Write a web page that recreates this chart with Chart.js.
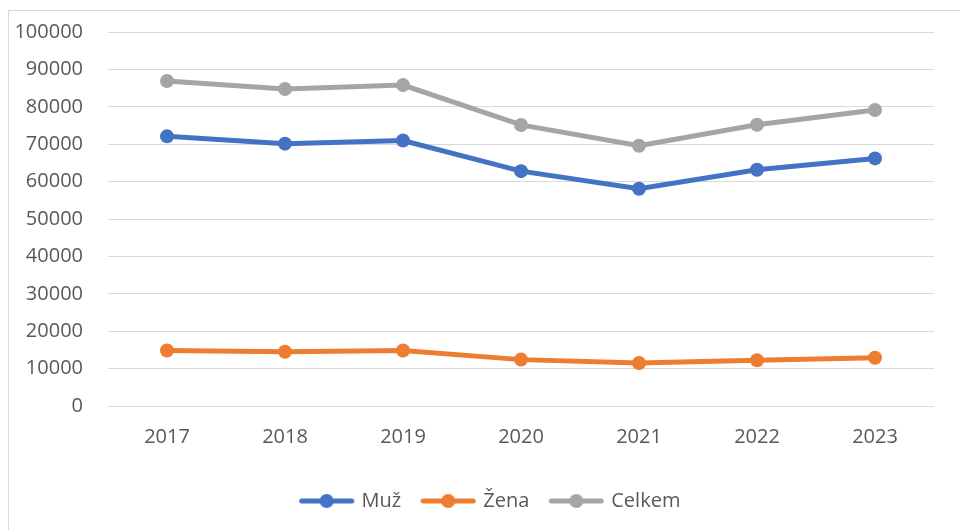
<!DOCTYPE html>
<html>
<head>
<meta charset="utf-8">
<script src="https://cdn.jsdelivr.net/npm/chart.js@4"></script>
<style>
  html, body { margin: 0; padding: 0; background: #fff; }
  #wrap { position: relative; width: 960px; height: 530px; }
</style>
</head>
<body>
<div id="wrap"><canvas id="c" width="960" height="530"></canvas></div>
<script>
const years = ['2017', '2018', '2019', '2020', '2021', '2022', '2023'];
const muz = [72100, 70150, 71000, 62800, 58100, 63150, 66200];
const zena = [14850, 14500, 14850, 12400, 11500, 12250, 12900];
const celkem = [86900, 84750, 85800, 75150, 69600, 75200, 79150];
const yTicks = [0, 10000, 20000, 30000, 40000, 50000, 60000, 70000, 80000, 90000, 100000];

const FONT = "'Open Sans', 'Liberation Sans', sans-serif";
const TEXT = '#595959';

function legendIcon(color) {
  const c = document.createElement('canvas');
  c.width = 56; c.height = 16;
  const g = c.getContext('2d');
  g.strokeStyle = color; g.lineWidth = 5; g.lineCap = 'round';
  g.beginPath(); g.moveTo(3, 8); g.lineTo(53, 8); g.stroke();
  g.fillStyle = color;
  g.beginPath(); g.arc(28, 8, 7, 0, Math.PI * 2); g.fill();
  return c;
}

const frame = {
  id: 'frame',
  beforeDraw(chart) {
    const ctx = chart.ctx;
    ctx.save();
    ctx.strokeStyle = '#D9D9D9';
    ctx.lineWidth = 1;
    ctx.strokeRect(8.5, 10.5, 1000, 600);
    ctx.restore();
  }
};

const shiftLegend = {
  id: 'shiftLegend',
  afterLayout(chart) {
    const l = chart.legend;
    if (!l) return;
    l.left += 20; l.right += 20;
    l.top += 1; l.bottom += 1;
  }
};

const series = [
  { label: 'Muž', data: muz, color: '#4472C4' },
  { label: 'Žena', data: zena, color: '#ED7D31' },
  { label: 'Celkem', data: celkem, color: '#A5A5A5' }
];

new Chart(document.getElementById('c'), {
  type: 'line',
  data: {
    labels: years,
    datasets: series.map(s => ({
      label: s.label,
      data: s.data,
      borderColor: s.color,
      backgroundColor: s.color,
      pointBackgroundColor: s.color,
      pointBorderColor: s.color,
      borderWidth: 5,
      pointRadius: 7,
      pointBorderWidth: 0,
      tension: 0,
      pointStyle: 'circle',
      legendIcon: legendIcon(s.color)
    }))
  },
  options: {
    responsive: false,
    animation: false,
    layout: { padding: { left: 8, right: 26, top: 32, bottom: 10 } },
    plugins: {
      tooltip: { enabled: false },
      legend: {
        position: 'bottom',
        labels: {
          color: TEXT,
          font: { family: FONT, size: 20 },
          usePointStyle: true,
          pointStyleWidth: 50,
          padding: 22,
          generateLabels(chart) {
            return chart.data.datasets.map((d, i) => ({
              text: d.label,
              fillStyle: d.borderColor,
              strokeStyle: d.borderColor,
              fontColor: TEXT,
              pointStyle: d.legendIcon,
              lineWidth: 0,
              hidden: false,
              datasetIndex: i
            }));
          }
        }
      }
    },
    scales: {
      x: {
        offset: true,
        grid: { display: false, drawTicks: false },
        border: { display: false },
        afterFit(s) { s.paddingLeft = 0; s.paddingRight = 0; },
        ticks: { color: TEXT, font: { family: FONT, size: 20 }, padding: 19 }
      },
      y: {
        min: 0,
        max: 100000,
        afterFit(s) { s.width = 100; s.paddingTop = 0; s.paddingBottom = 0; },
        afterBuildTicks(s) { s.ticks = yTicks.map(v => ({ value: v })); },
        grid: { color: '#D9D9D9', lineWidth: 1, drawTicks: false },
        border: { display: false },
        ticks: { color: TEXT, font: { family: FONT, size: 20 }, padding: 25, callback: v => String(v) }
      }
    }
  },
  plugins: [frame, shiftLegend]
});
</script>
</body>
</html>
